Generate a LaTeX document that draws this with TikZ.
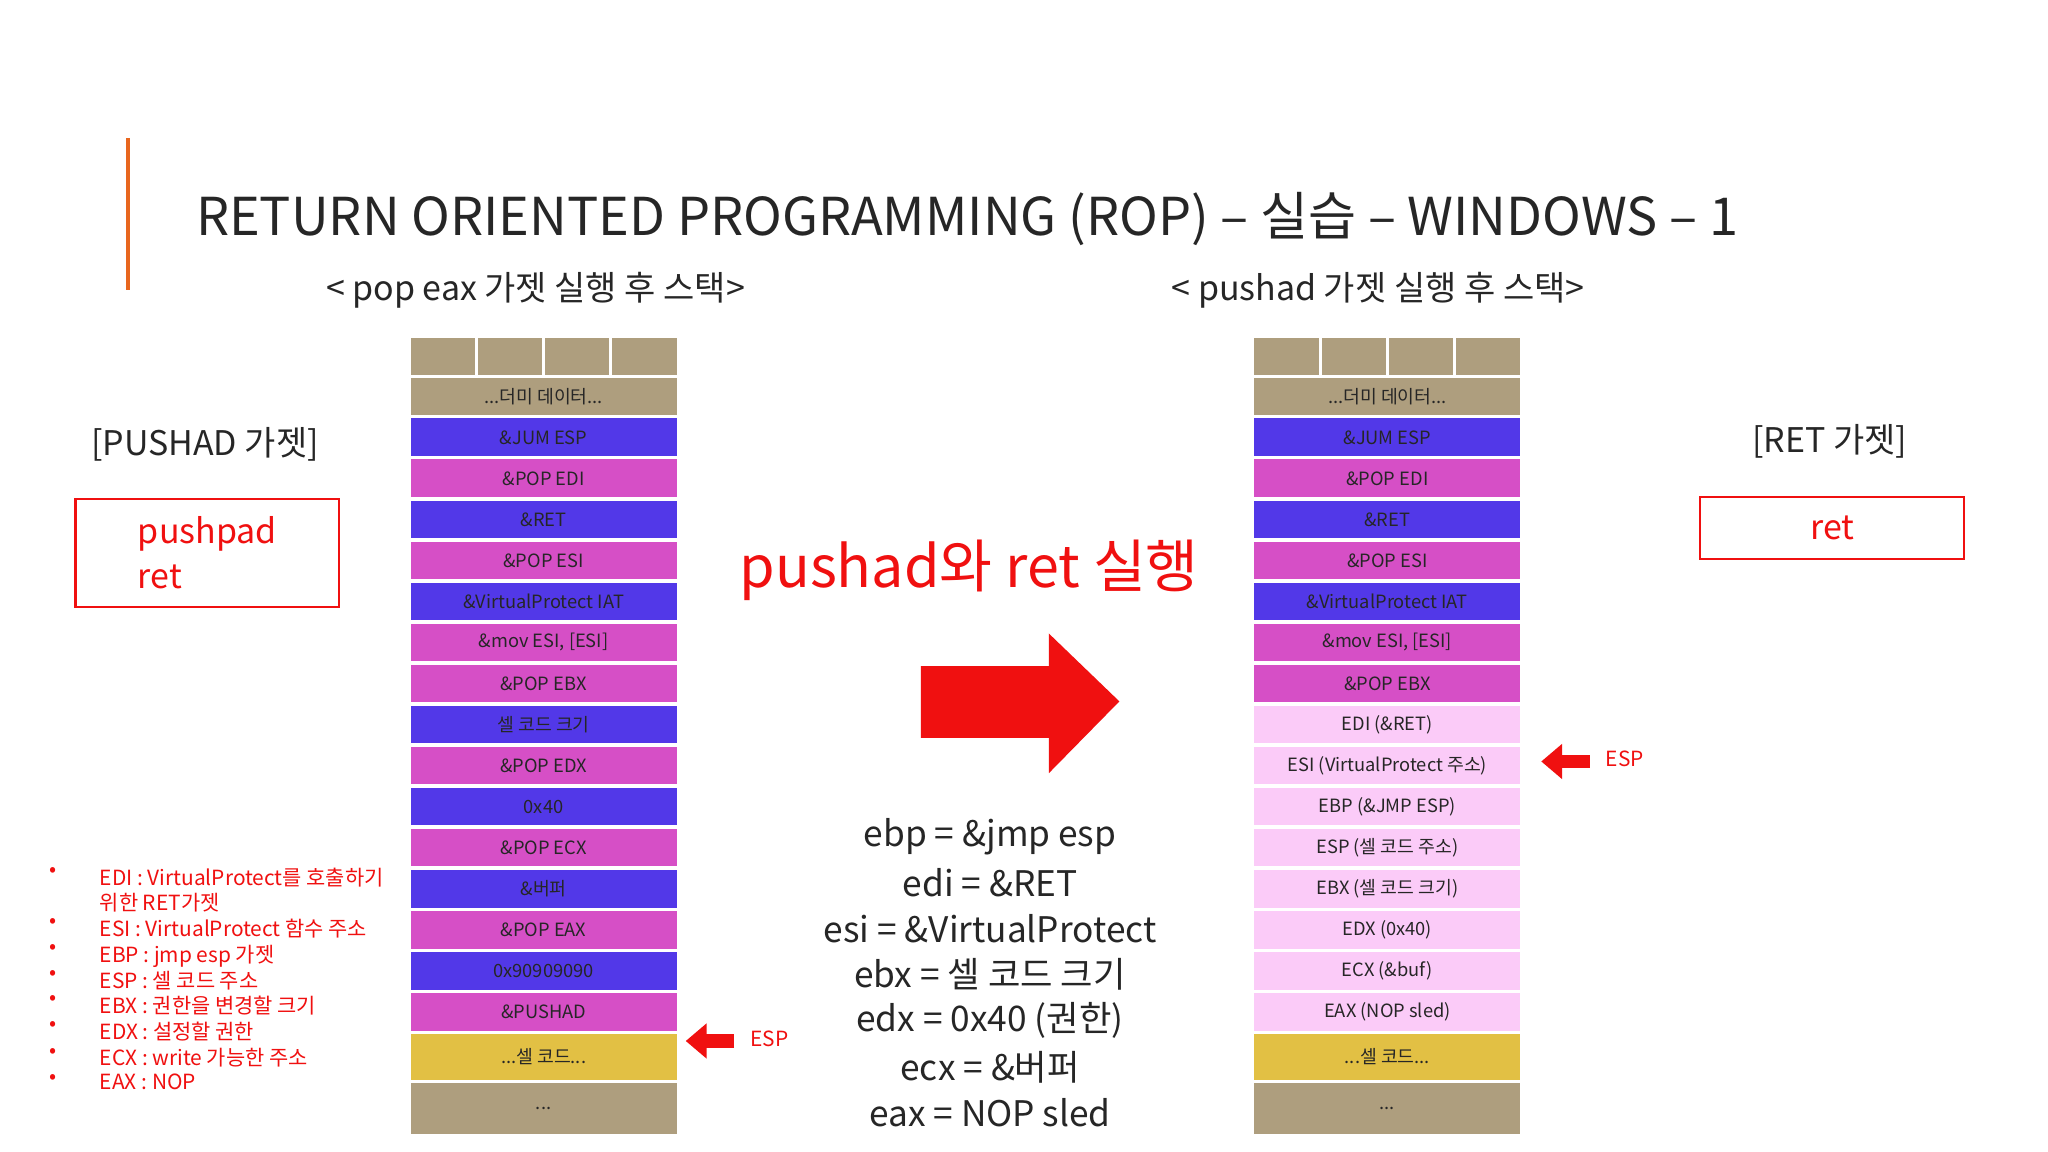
\documentclass[tikz,border=0pt]{standalone}
\usepackage{fontspec}
\setmainfont{Noto Sans CJK KR}
\usetikzlibrary{arrows.meta}
\definecolor{tan}{HTML}{AE9E7E}
\definecolor{blu}{HTML}{5238E8}
\definecolor{mag}{HTML}{D64FC6}
\definecolor{lpk}{HTML}{FBCBF8}
\definecolor{yel}{HTML}{E2C044}
\definecolor{rd}{HTML}{F01010}
\definecolor{org}{HTML}{E8661E}
\tikzset{
 cell/.style={draw=white,line width=1.2pt,minimum width=103pt,minimum height=15.7pt,inner sep=0pt,font=\fontsize{7}{8}\selectfont,text=black!85},
 small/.style={draw=white,line width=1.2pt,minimum width=25.75pt,minimum height=15.5pt,inner sep=0pt,fill=tan},
 hdr/.style={font=\fontsize{13}{15}\selectfont,text=black!85},
 eq/.style={font=\fontsize{13.5}{16}\selectfont,text=black!85},
 bul/.style={font=\fontsize{8}{9.6}\selectfont,text=rd,anchor=north west,align=left},
 redbox/.style={draw=rd,line width=0.8pt,anchor=north west,align=left,text=rd,inner sep=5pt,font=\fontsize{13}{17}\selectfont}
}
\begin{document}
\begin{tikzpicture}[x=0.5pt,y=-0.5pt]
\useasboundingbox[fill=white] (0,0) rectangle (1568,882);
\draw[org,line width=1.2pt] (98,106) -- (98,222);
\node[font=\fontsize{20}{24}\selectfont,text=black!85,anchor=west] (title) at (143,168) {RETURN ORIENTED PROGRAMMING (ROP) – 실습 – WINDOWS – 1};
\node[hdr] (h1) at (410,222) {< pop eax 가젯 실행 후 스택>};
\node[hdr] (h2) at (1055,222) {< pushad 가젯 실행 후 스택>};
\node[hdr] (pl) at (157,340) {[PUSHAD 가젯]};
\node[hdr] (rl) at (1401,338) {[RET 가젯]};
\node[redbox,minimum width=101pt,minimum height=41.5pt] (pb) at (57,381) {pushpad\\ret};
\node[redbox,minimum width=101pt,minimum height=23.5pt] (rb) at (1301,380) {ret};
% stacks
\foreach \sx/\nm in {312/L,958/R}{
 \foreach \i in {0,...,3} \node[small,anchor=north west] (\nm top\i) at (\sx+\i*51.5,256) {};
 \node[cell,fill=tan,anchor=north west] (\nm dummy) at (\sx,287) {...더미 데이터...};
 \foreach \t/\c [count=\k from 0] in {{\&JUM ESP}/blu,{\&POP EDI}/mag,{\&RET}/blu,{\&POP ESI}/mag,{\&VirtualProtect IAT}/blu,{\&mov ESI, [ESI]}/mag,{\&POP EBX}/mag}
   \node[cell,fill=\c,anchor=north west] (\nm r\k) at (\sx,318+\k*31.4) {\t};
 \node[cell,fill=yel,anchor=north west,minimum height=19pt] (\nm shell) at (\sx,789) {...셀 코드...};
 \node[cell,fill=tan,anchor=north west,minimum height=20.5pt] (\nm dots) at (\sx,827) {...};
}
\foreach \t/\c [count=\k from 7] in {{셀 코드 크기}/blu,{\&POP EDX}/mag,{0x40}/blu,{\&POP ECX}/mag,{\&버퍼}/blu,{\&POP EAX}/mag,{0x90909090}/blu,{\&PUSHAD}/mag}
  \node[cell,fill=\c,anchor=north west] (Lr\k) at (312,318+\k*31.4) {\t};
\foreach \t [count=\k from 7] in {{EDI (\&RET)},{ESI (VirtualProtect 주소)},{EBP (\&JMP ESP)},{ESP (셀 코드 주소)},{EBX (셀 코드 크기)},{EDX (0x40)},{ECX (\&buf)},{EAX (NOP sled)}}
  \node[cell,fill=lpk,anchor=north west] (Rr\k) at (958,318+\k*31.4) {\t};
% ESP arrows
\coordinate (la) at (562,797); \coordinate (ra) at (1217,583);
\draw[rd,line width=5pt,-{Triangle[width=13pt,length=8pt]}] (la) -- ++(-37,0) coordinate (lae);
\node[font=\fontsize{8}{10}\selectfont,text=rd] (lesp) at (589,795) {ESP};
\draw[rd,line width=5pt,-{Triangle[width=13pt,length=8pt]}] (ra) -- ++(-37,0) coordinate (rae);
\node[font=\fontsize{8}{10}\selectfont,text=rd] (resp) at (1244,581) {ESP};
% big arrow
\fill[rd] (705,510) -- (803,510) -- (803,485) -- (857,537) -- (803,592) -- (803,565) -- (705,565) -- cycle;
\node[font=\fontsize{22}{26}\selectfont,text=rd] (act) at (742,437) {pushad와 ret 실행};
% equations
\foreach \t/\y [count=\k] in {{ebp = \&jmp esp}/641,{edi = \&RET}/676,{esi = \&VirtualProtect}/711,{ebx = 셀 코드 크기}/746,{edx = 0x40 (권한)}/781,{ecx = \&버퍼}/817,{eax = NOP sled}/852}
  \node[eq] (e\k) at (758,\y) {\t};
% bullets
\foreach \t/\y [count=\k] in {{EDI : VirtualProtect를 호출하기\\위한 RET가젯}/664,{ESI : VirtualProtect 함수 주소}/703,{EBP : jmp esp 가젯}/723,{ESP : 셀 코드 주소}/743,{EBX : 권한을 변경할 크기}/762,{EDX : 설정할 권한}/782,{ECX : write 가능한 주소}/802,{EAX : NOP}/822}{
  \node[bul,inner sep=0pt] (b\k) at (76,\y) {\t};
  \node[text=rd,font=\fontsize{8}{9.6}\selectfont,anchor=north,inner sep=0pt] (d\k) at (41,\y) {•};
}
\end{tikzpicture}
\end{document}
